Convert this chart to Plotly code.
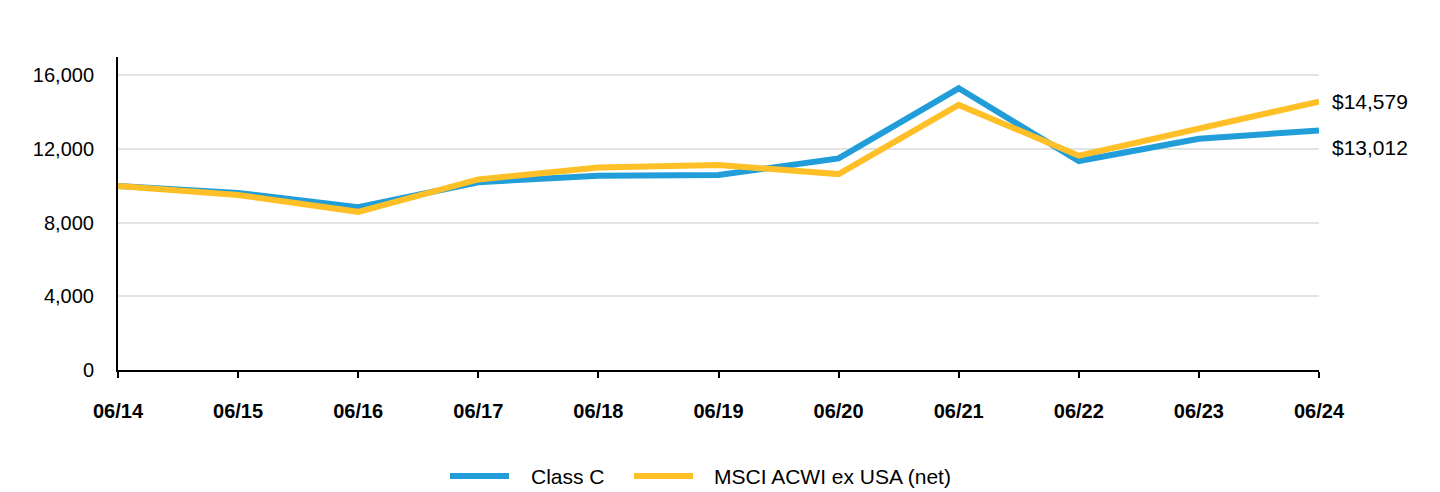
import plotly.graph_objects as go

categories = ["06/14", "06/15", "06/16", "06/17", "06/18", "06/19", "06/20", "06/21", "06/22", "06/23", "06/24"]
class_c = [10000, 9620, 8840, 10200, 10550, 10590, 11490, 15300, 11350, 12560, 13012]
msci = [10000, 9500, 8590, 10350, 11000, 11130, 10640, 14400, 11640, 13130, 14579]
y_ticks = [0, 4000, 8000, 12000, 16000]
end_labels = ["$13,012", "$14,579"]
series_names = ["Class C", "MSCI ACWI ex USA (net)"]

BLUE = "#219ed9"
GOLD = "#ffbf27"
FONT = "Liberation Sans, Arial, sans-serif"

L, R, T, B = 118, 121, 57, 122
W, H = 1440, 492
PW = W - L - R
PH = H - T - B

fig = go.Figure()
fig.add_trace(go.Scatter(x=categories, y=class_c, mode="lines", name=series_names[0],
                         line=dict(color=BLUE, width=6), showlegend=False))
fig.add_trace(go.Scatter(x=categories, y=msci, mode="lines", name=series_names[1],
                         line=dict(color=GOLD, width=6), showlegend=False))

fig.add_annotation(x=categories[-1], y=class_c[-1], text=end_labels[0], showarrow=False,
                   xanchor="left", xshift=11, yshift=-17, font=dict(size=21, color="#000", family=FONT))
fig.add_annotation(x=categories[-1], y=msci[-1], text=end_labels[1], showarrow=False,
                   xanchor="left", xshift=11, yshift=0, font=dict(size=21, color="#000", family=FONT))

# custom legend (long line swatches)
def px_x(p):
    return (p - L) / PW

def px_y(p):
    return (H - B - p) / PH

leg_y = 476
items = [(series_names[0], BLUE, 450, 529), (series_names[1], GOLD, 634, 712)]
for name, col, x0, tx in items:
    fig.add_shape(type="line", xref="paper", yref="paper", x0=px_x(x0), x1=px_x(x0 + 59),
                  y0=px_y(leg_y), y1=px_y(leg_y), line=dict(color=col, width=6))
    fig.add_annotation(xref="paper", yref="paper", x=px_x(tx), y=px_y(leg_y), text=name,
                       showarrow=False, xanchor="left", yanchor="middle",
                       font=dict(size=21, color="#000", family=FONT))

fig.update_layout(
    width=W, height=H,
    margin=dict(l=L, r=R, t=T, b=B, autoexpand=False),
    paper_bgcolor="white", plot_bgcolor="white",
    font=dict(family=FONT, color="#000"),
    showlegend=False,
    xaxis=dict(type="category", range=[0, 10], showgrid=False, showline=True,
               linecolor="#000", linewidth=2, ticks="outside", ticklen=6, tickwidth=2,
               tickcolor="#000", tickfont=dict(size=20, family=FONT, weight="bold"),
               ticklabelstandoff=16, zeroline=False, fixedrange=True, automargin=False),
    yaxis=dict(range=[0, 17000], tickvals=y_ticks, tickformat=",", showgrid=True,
               gridcolor="#e3e3e3", gridwidth=1.6, showline=True, linecolor="#000",
               linewidth=2, zeroline=False, ticks="", tickfont=dict(size=20, family=FONT),
               ticklabelstandoff=18, fixedrange=True, automargin=False),
)

fig.write_html("out.html")
